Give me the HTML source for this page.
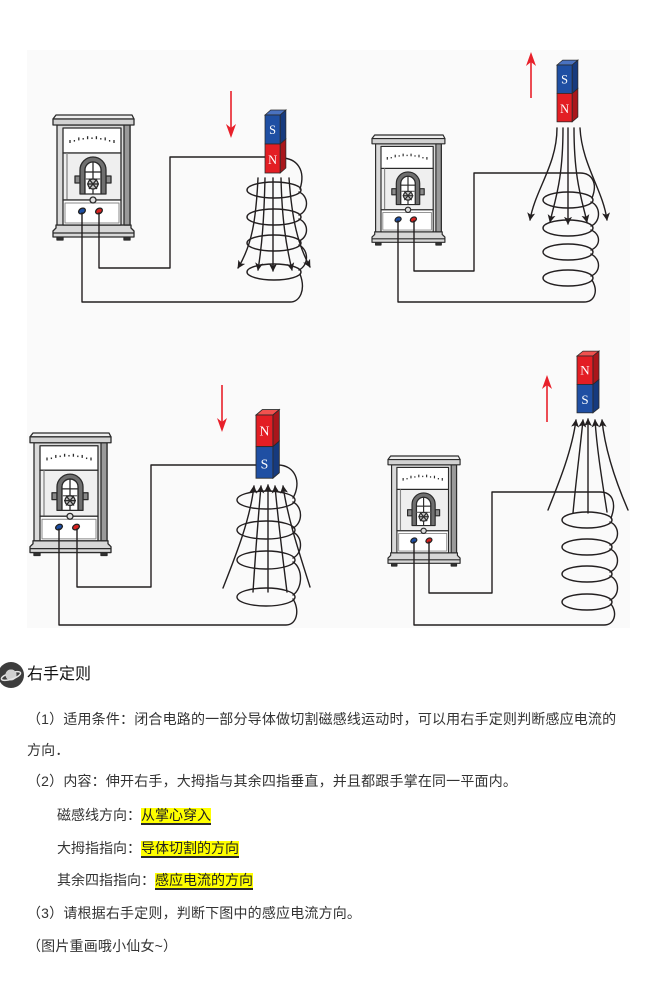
<!DOCTYPE html>
<html>
<head>
<meta charset="utf-8">
<style>
  html, body { margin:0; padding:0; background:#fff; }
  body { width:660px; height:984px; position:relative; overflow:hidden;
         font-family:"Liberation Sans","Noto Sans CJK SC",sans-serif; }
  svg.dia { position:absolute; left:0; top:0; }
  .t { position:absolute; white-space:nowrap; font-size:14px; line-height:20px; color:#333; letter-spacing:0.18px; }
  .title { position:absolute; left:27px; top:665px; font-size:16px; line-height:20px; color:#111; white-space:nowrap; }
  .hl { display:inline-block; background:#ffff00; border-bottom:2px solid #2a2a2a; line-height:15px; height:15px; color:#222; }
  .row { position:absolute; left:57px; white-space:nowrap; font-size:14px; line-height:17px; color:#333; }
</style>
</head>
<body>
<svg class="dia" width="660" height="984" viewBox="0 0 660 984" xmlns="http://www.w3.org/2000/svg">
  <defs>
    <marker id="ah" viewBox="0 0 10 10" refX="9" refY="5" markerWidth="8" markerHeight="8" markerUnits="userSpaceOnUse" orient="auto">
      <path d="M0,0 L10,5 L0,10 L2.5,5 z" fill="#231f20"/>
    </marker>
    <g id="galv" stroke="#2b2b2b" stroke-width="1.3" stroke-linejoin="round">
      <rect x="4" y="121" width="6" height="4" fill="#333"/>
      <rect x="71" y="121" width="6" height="4" fill="#333"/>
      <path d="M3 110 H78 V113 L81 116 V122 H0 V116 L3 113 Z" fill="#d8d8d8"/>
      <line x1="0" y1="118" x2="81" y2="118"/>
      <rect x="4" y="10" width="73" height="100" fill="#dadada"/>
      <rect x="71" y="10" width="6" height="100" fill="#9a9a9a"/>
      <path d="M3 0 H79 L81 4 H0 Z" fill="#eeeeee"/>
      <rect x="0" y="4" width="81" height="6" fill="#d2d2d2"/>
      <rect x="10" y="13" width="58" height="25" fill="#fff"/>
      <g stroke-width="1.3">
        <line x1="17" y1="28" x2="17" y2="25"/>
        <line x1="21.4" y1="26.6" x2="21.4" y2="25"/>
        <line x1="25.8" y1="25.4" x2="25.8" y2="22.4"/>
        <line x1="30.2" y1="24.6" x2="30.2" y2="23"/>
        <line x1="34.6" y1="24.2" x2="34.6" y2="21.2"/>
        <line x1="39" y1="24" x2="39" y2="22.4"/>
        <line x1="43.4" y1="24.2" x2="43.4" y2="21.2"/>
        <line x1="47.8" y1="24.6" x2="47.8" y2="23"/>
        <line x1="52.2" y1="25.4" x2="52.2" y2="22.4"/>
        <line x1="56.6" y1="26.6" x2="56.6" y2="25"/>
        <line x1="61" y1="28" x2="61" y2="25"/>
      </g>
      <rect x="10" y="38" width="58" height="47" fill="#efefef"/>
      <line x1="14" y1="38" x2="14" y2="85" stroke="#888"/>
      <rect x="22" y="61" width="5" height="7" fill="#8a8a8a"/>
      <rect x="53" y="61" width="5" height="7" fill="#8a8a8a"/>
      <path d="M27 79 V55 A13 13 0 0 1 53 55 V79 H48 V55 A8 8 0 0 0 32 55 V79 Z" fill="#6f6f6f"/>
      <path d="M32 79 V55 A8 8 0 0 1 48 55 V79 Z" fill="#fff"/>
      <line x1="40" y1="47" x2="40" y2="79"/>
      <line x1="32" y1="57" x2="48" y2="57"/>
      <line x1="32" y1="64" x2="48" y2="64" stroke="#666"/>
      <circle cx="40" cy="69" r="5" fill="#c4c4c4"/>
      <line x1="34" y1="69" x2="46" y2="69"/>
      <line x1="36" y1="74" x2="44" y2="64"/>
      <line x1="36" y1="64" x2="44" y2="74"/>
      <rect x="10" y="85" width="58" height="25" fill="#fff"/>
      <rect x="12" y="88" width="54" height="20" fill="none" stroke="#888" stroke-width="1"/>
      <circle cx="40" cy="85" r="3" fill="#ddd"/>
      <ellipse cx="29" cy="96" rx="3.6" ry="2.6" transform="rotate(-30 29 96)" fill="#1d4ea3" stroke="#222"/>
      <ellipse cx="46" cy="96" rx="3.6" ry="2.6" transform="rotate(-30 46 96)" fill="#d8211f" stroke="#222"/>
    </g>
  </defs>

  <!-- panel background -->
  <rect x="27" y="50" width="603" height="578" fill="#fafafa"/>

  <!-- galvanometers -->
  <use href="#galv" transform="translate(53,115)"/>
  <use href="#galv" transform="translate(372,135) scale(0.9,0.88)"/>
  <use href="#galv" transform="translate(30,433) scale(1,0.98)"/>
  <use href="#galv" transform="translate(388,456) scale(0.89,0.88)"/>

  <g fill="none" stroke="#231f20" stroke-width="1.4" stroke-linecap="round" stroke-linejoin="round">
    <!-- ===== TL ===== -->
    <path d="M99 213 V268 H170 V157 H266"/>
    <path d="M82 213 V302 H290 C300 302, 306 290, 300 274"/>
    <path d="M281 158 C297 158, 306 170, 300 189"/>
    <ellipse cx="274" cy="190" rx="27" ry="8"/>
    <ellipse cx="274" cy="217" rx="27" ry="8"/>
    <ellipse cx="274" cy="243" rx="27" ry="8"/>
    <ellipse cx="274" cy="272" rx="27" ry="8"/>
    <path d="M299 192 C309 196, 309 211, 299 215"/>
    <path d="M299 219 C309 223, 309 237, 299 241"/>
    <path d="M299 245 C309 250, 309 265, 299 270"/>
    <g marker-end="url(#ah)">
      <path d="M258 178 C256 220, 252 245, 238 268"/>
      <path d="M265 178 C264 220, 262 245, 258 270"/>
      <path d="M273 178 V271"/>
      <path d="M281 178 C282 220, 286 245, 292 270"/>
      <path d="M289 178 C292 220, 298 245, 310 267"/>
    </g>

    <!-- ===== TR ===== -->
    <path d="M414 221 V271 H474 V173 H580 C592 173, 598 183, 592 198"/>
    <path d="M398 221 V302 H584 C594 302, 599 292, 592 280"/>
    <ellipse cx="568" cy="200" rx="25" ry="8"/>
    <ellipse cx="568" cy="228" rx="25" ry="8"/>
    <ellipse cx="568" cy="252" rx="25" ry="8"/>
    <ellipse cx="568" cy="278" rx="25" ry="8"/>
    <path d="M591 202 C601 206, 601 222, 591 226"/>
    <path d="M591 230 C601 234, 601 246, 591 250"/>
    <path d="M591 254 C601 259, 601 272, 591 276"/>
    <g marker-end="url(#ah)">
      <path d="M557 128 C557 165, 535 190, 530 220"/>
      <path d="M563 128 C563 180, 555 200, 550 222"/>
      <path d="M568 128 V224"/>
      <path d="M574 128 C574 180, 582 200, 587 222"/>
      <path d="M580 128 C582 165, 603 190, 607 220"/>
    </g>

    <!-- ===== BL ===== -->
    <path d="M77 529 V587 H151 V465 H257"/>
    <path d="M59 529 V625 H286 C297 625, 300 610, 293 599"/>
    <path d="M278 465 C295 465, 302 482, 293 498"/>
    <ellipse cx="266" cy="500" rx="29" ry="9"/>
    <ellipse cx="266" cy="530" rx="29" ry="9"/>
    <ellipse cx="266" cy="560" rx="29" ry="9"/>
    <ellipse cx="266" cy="597" rx="29" ry="9"/>
    <path d="M293 502 C303 507, 303 523, 293 528"/>
    <path d="M293 532 C303 537, 303 553, 293 558"/>
    <path d="M293 562 C303 568, 303 588, 293 595"/>
    <g marker-end="url(#ah)">
      <path d="M223 588 C236 555, 250 520, 254 486"/>
      <path d="M253 592 C255 560, 258 520, 261 486"/>
      <path d="M268 592 V485"/>
      <path d="M287 592 C283 560, 278 520, 275 486"/>
      <path d="M310 587 C300 555, 288 520, 283 486"/>
    </g>

    <!-- ===== BR ===== -->
    <path d="M429 542 V593 H492 V492 H600 C612 492, 617 502, 611 518"/>
    <path d="M414 542 V625 H604 C614 625, 618 614, 611 604"/>
    <ellipse cx="587" cy="520" rx="25" ry="8"/>
    <ellipse cx="587" cy="547" rx="25" ry="8"/>
    <ellipse cx="587" cy="574" rx="25" ry="8"/>
    <ellipse cx="587" cy="602" rx="25" ry="8"/>
    <path d="M610 522 C620 526, 620 541, 610 545"/>
    <path d="M610 549 C620 553, 620 568, 610 572"/>
    <path d="M610 576 C620 580, 620 596, 610 600"/>
    <g marker-end="url(#ah)">
      <path d="M548 510 C560 480, 572 450, 576 420"/>
      <path d="M573 513 C576 480, 580 450, 583 420"/>
      <path d="M588 513 V419"/>
      <path d="M607 512 C602 480, 597 450, 595 420"/>
      <path d="M628 510 C615 480, 605 450, 602 420"/>
    </g>
  </g>

  <!-- magnets -->
  <g stroke="#2a2a2a" stroke-width="0.8" font-family="'Liberation Serif', serif" font-size="13" text-anchor="middle" fill="#fff">
    <g transform="translate(265,115) scale(0.95,1)">
      <polygon points="0,0 6,-5 22,-5 16,0" fill="#4a72c0"/>
      <rect x="0" y="0" width="16" height="29" fill="#1f4fa3"/>
      <rect x="0" y="29" width="16" height="29" fill="#e31e24"/>
      <polygon points="16,0 22,-5 22,24 16,29" fill="#163a7e"/>
      <polygon points="16,29 22,24 22,53 16,58" fill="#a9161b"/>
      <text x="8" y="19" stroke="none" fill="#fff">S</text>
      <text x="8" y="49" stroke="none" fill="#fff">N</text>
    </g>
    <g transform="translate(557,65) scale(0.95,0.98)">
      <polygon points="0,0 6,-5 22,-5 16,0" fill="#4a72c0"/>
      <rect x="0" y="0" width="16" height="29" fill="#1f4fa3"/>
      <rect x="0" y="29" width="16" height="29" fill="#e31e24"/>
      <polygon points="16,0 22,-5 22,24 16,29" fill="#163a7e"/>
      <polygon points="16,29 22,24 22,53 16,58" fill="#a9161b"/>
      <text x="8" y="19" stroke="none" fill="#fff">S</text>
      <text x="8" y="49" stroke="none" fill="#fff">N</text>
    </g>
    <g transform="translate(256,415) scale(1.06,1.09)">
      <polygon points="0,0 6,-5 22,-5 16,0" fill="#f0524f"/>
      <rect x="0" y="0" width="16" height="29" fill="#e31e24"/>
      <rect x="0" y="29" width="16" height="29" fill="#1f4fa3"/>
      <polygon points="16,0 22,-5 22,24 16,29" fill="#a9161b"/>
      <polygon points="16,29 22,24 22,53 16,58" fill="#163a7e"/>
      <text x="8" y="19" stroke="none" fill="#fff">N</text>
      <text x="8" y="49" stroke="none" fill="#fff">S</text>
    </g>
    <g transform="translate(577,356) scale(1,0.98)">
      <polygon points="0,0 6,-5 22,-5 16,0" fill="#f0524f"/>
      <rect x="0" y="0" width="16" height="29" fill="#e31e24"/>
      <rect x="0" y="29" width="16" height="29" fill="#1f4fa3"/>
      <polygon points="16,0 22,-5 22,24 16,29" fill="#a9161b"/>
      <polygon points="16,29 22,24 22,53 16,58" fill="#163a7e"/>
      <text x="8" y="19" stroke="none" fill="#fff">N</text>
      <text x="8" y="49" stroke="none" fill="#fff">S</text>
    </g>
  </g>

  <!-- red motion arrows -->
  <g stroke="#e8202a" stroke-width="1.6" fill="#e8202a">
    <line x1="231" y1="91" x2="231" y2="128"/>
    <path d="M226 124 L231 138 L236 124 L231 128 Z" stroke="none"/>
    <line x1="531" y1="98" x2="531" y2="62"/>
    <path d="M526 66 L531 52 L536 66 L531 62 Z" stroke="none"/>
    <line x1="222" y1="385" x2="222" y2="422"/>
    <path d="M217 418 L222 432 L227 418 L222 422 Z" stroke="none"/>
    <line x1="547" y1="422" x2="547" y2="385"/>
    <path d="M542 389 L547 375 L552 389 L547 385 Z" stroke="none"/>
  </g>

  <!-- title icon -->
  <circle cx="11" cy="675" r="13" fill="#3d3d3d"/>
  <circle cx="11" cy="675" r="5.5" fill="#d0d0d0"/>
  <ellipse cx="11" cy="676" rx="10" ry="3.2" transform="rotate(-18 11 676)" fill="none" stroke="#e6e6e6" stroke-width="1.5"/>
  <path d="M5.5 675 A5.5 5.5 0 0 1 16.5 675" fill="#d0d0d0"/>
</svg>

<div class="title">右手定则</div>
<div class="t" style="left:27px; top:709px;">（1）适用条件：闭合电路的一部分导体做切割磁感线运动时，可以用右手定则判断感应电流的</div>
<div class="t" style="left:27px; top:740px;">方向．</div>
<div class="t" style="left:27px; top:771px;">（2）内容：伸开右手，大拇指与其余四指垂直，并且都跟手掌在同一平面内。</div>
<div class="row" style="top:807px;">磁感线方向：<span class="hl">从掌心穿入</span></div>
<div class="row" style="top:840px;">大拇指指向：<span class="hl">导体切割的方向</span></div>
<div class="row" style="top:872px;">其余四指指向：<span class="hl">感应电流的方向</span></div>
<div class="t" style="left:27px; top:903px;">（3）请根据右手定则，判断下图中的感应电流方向。</div>
<div class="t" style="left:27px; top:936px;">（图片重画哦小仙女~）</div>
</body>
</html>
